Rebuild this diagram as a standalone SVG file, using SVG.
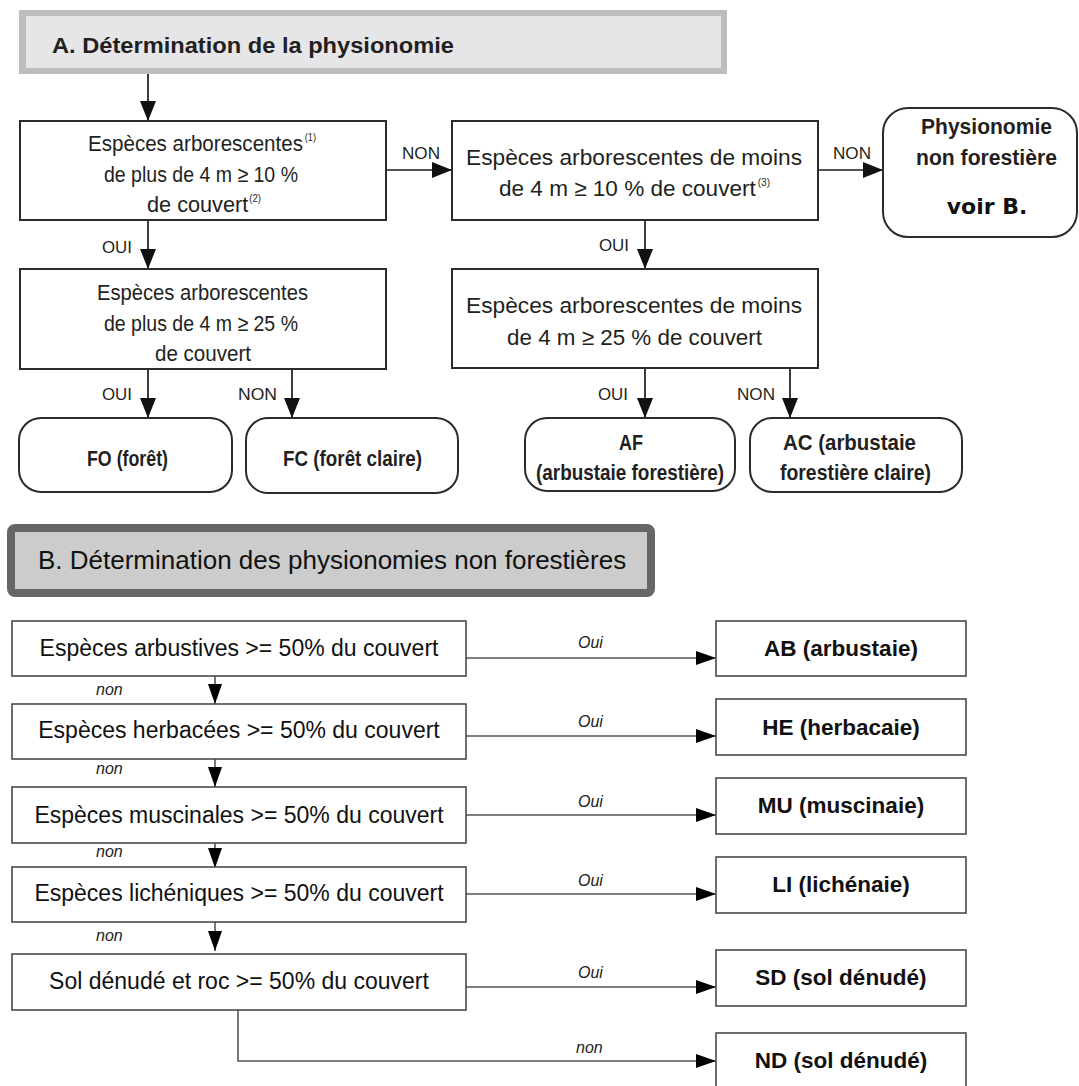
<svg xmlns="http://www.w3.org/2000/svg" width="1079" height="1086" viewBox="0 0 1079 1086">
  <style>
    .box { fill: #ffffff; stroke: #2b2b2b; stroke-width: 2; }
    .boxb { fill: #ffffff; stroke: #4a4a4a; stroke-width: 1.6; }
    .wire { fill: none; stroke: #1a1a1a; stroke-width: 1.7; }
    .wireb { fill: none; stroke: #555555; stroke-width: 1.6; }
    .cond { font-family: "Liberation Sans", Arial, sans-serif; font-size: 22.5px; fill: #231f20; }
    .condb { font-family: "Liberation Sans", Arial, sans-serif; font-size: 22.5px; font-weight: bold; fill: #231f20; }
    .sup { font-size: 10px; }
    .lbl { font-family: "Liberation Sans", Arial, sans-serif; font-size: 17px; fill: #231f20; }
    .txt { font-family: "Liberation Sans", Arial, sans-serif; font-size: 23px; fill: #111111; text-anchor: middle; }
    .txtb { font-family: "Liberation Sans", Arial, sans-serif; font-size: 22.5px; font-weight: bold; fill: #111111; text-anchor: middle; }
    .it { font-family: "Liberation Sans", Arial, sans-serif; font-size: 16px; font-style: italic; fill: #222222; }
  </style>
  <defs>
    <marker id="headA" markerUnits="userSpaceOnUse" markerWidth="20" markerHeight="16" refX="20" refY="8" orient="auto">
      <path d="M0,0 L20,8 L0,16 z" fill="#111111"/>
    </marker>
    <marker id="headB" markerUnits="userSpaceOnUse" markerWidth="20" markerHeight="14" refX="20" refY="7" orient="auto">
      <path d="M0,0 L20,7 L0,14 z" fill="#000000"/>
    </marker>
  </defs>

  <!-- Section A title band -->
  <g id="titleA">
    <rect x="19" y="10" width="708" height="64" fill="#bdbdbf"/>
    <rect x="26" y="16" width="695" height="52" fill="#e6e6e8"/>
    <text class="condb" x="52" y="53" font-size="24" textLength="402" lengthAdjust="spacingAndGlyphs">A. Détermination de la physionomie</text>
  </g>

  <!-- Section A connectors -->
  <g id="connectorsA">
    <path class="wire" d="M148,74 V121" marker-end="url(#headA)"/>
    <path class="wire" d="M148,220 V269" marker-end="url(#headA)"/>
    <path class="wire" d="M148,369 V418" marker-end="url(#headA)"/>
    <path class="wire" d="M292,369 V418" marker-end="url(#headA)"/>
    <path class="wire" d="M386,170 H452" marker-end="url(#headA)"/>
    <path class="wire" d="M818,170 H883" marker-end="url(#headA)"/>
    <path class="wire" d="M645,220 V269" marker-end="url(#headA)"/>
    <path class="wire" d="M645,368 V418" marker-end="url(#headA)"/>
    <path class="wire" d="M790,368 V418" marker-end="url(#headA)"/>
    <text class="lbl" x="102" y="253" textLength="30" lengthAdjust="spacingAndGlyphs">OUI</text>
    <text class="lbl" x="402" y="159" textLength="38" lengthAdjust="spacingAndGlyphs">NON</text>
    <text class="lbl" x="833" y="159" textLength="38" lengthAdjust="spacingAndGlyphs">NON</text>
    <text class="lbl" x="599" y="251" textLength="30" lengthAdjust="spacingAndGlyphs">OUI</text>
    <text class="lbl" x="102" y="400" textLength="30" lengthAdjust="spacingAndGlyphs">OUI</text>
    <text class="lbl" x="238" y="400" textLength="39" lengthAdjust="spacingAndGlyphs">NON</text>
    <text class="lbl" x="598" y="400" textLength="30" lengthAdjust="spacingAndGlyphs">OUI</text>
    <text class="lbl" x="737" y="400" textLength="38" lengthAdjust="spacingAndGlyphs">NON</text>
  </g>

  <!-- Section A nodes -->
  <g id="treesAbove4m10">
    <rect class="box" x="20" y="121" width="366" height="99"/>
    <text class="cond" x="88" y="151" textLength="228" lengthAdjust="spacingAndGlyphs">Espèces arborescentes<tspan class="sup" dx="2" dy="-10">(1)</tspan></text>
    <text class="cond" x="104" y="182" textLength="194" lengthAdjust="spacingAndGlyphs">de plus de 4 m ≥ 10 %</text>
    <text class="cond" x="147" y="212" textLength="114" lengthAdjust="spacingAndGlyphs">de couvert<tspan class="sup" dx="1" dy="-10">(2)</tspan></text>
  </g>
  <g id="treesAbove4m25">
    <rect class="box" x="20" y="269" width="366" height="100"/>
    <text class="cond" x="97" y="300" textLength="211" lengthAdjust="spacingAndGlyphs">Espèces arborescentes</text>
    <text class="cond" x="104" y="331" textLength="194" lengthAdjust="spacingAndGlyphs">de plus de 4 m ≥ 25 %</text>
    <text class="cond" x="155" y="361" textLength="96" lengthAdjust="spacingAndGlyphs">de couvert</text>
  </g>
  <g id="treesBelow4m10">
    <rect class="box" x="452" y="121" width="366" height="99"/>
    <text class="cond" x="466" y="165" textLength="336" lengthAdjust="spacingAndGlyphs">Espèces arborescentes de moins</text>
    <text class="cond" x="499" y="196" textLength="271" lengthAdjust="spacingAndGlyphs">de 4 m ≥ 10 % de couvert<tspan class="sup" dx="2" dy="-10">(3)</tspan></text>
  </g>
  <g id="treesBelow4m25">
    <rect class="box" x="452" y="269" width="366" height="99"/>
    <text class="cond" x="466" y="313" textLength="336" lengthAdjust="spacingAndGlyphs">Espèces arborescentes de moins</text>
    <text class="cond" x="507" y="345" textLength="255" lengthAdjust="spacingAndGlyphs">de 4 m ≥ 25 % de couvert</text>
  </g>
  <g id="nonForest">
    <rect class="box" x="883" y="108" width="194" height="129" rx="25"/>
    <text class="condb" x="921" y="134" textLength="131" lengthAdjust="spacingAndGlyphs">Physionomie</text>
    <text class="condb" x="916" y="165" textLength="141" lengthAdjust="spacingAndGlyphs">non forestière</text>
    <text x="987" y="214" font-family="'DejaVu Sans', Verdana, sans-serif" font-weight="bold" font-size="22" text-anchor="middle" fill="#111111">voir B.</text>
  </g>
  <g id="FO">
    <rect class="box" x="19" y="418" width="213" height="74" rx="22"/>
    <text class="condb" x="87" y="466" textLength="81" lengthAdjust="spacingAndGlyphs">FO (forêt)</text>
  </g>
  <g id="FC">
    <rect class="box" x="246" y="418" width="212" height="75" rx="22"/>
    <text class="condb" x="283" y="466" textLength="139" lengthAdjust="spacingAndGlyphs">FC (forêt claire)</text>
  </g>
  <g id="AF">
    <rect class="box" x="525" y="418" width="210" height="73" rx="22"/>
    <text class="condb" x="619" y="450" textLength="24" lengthAdjust="spacingAndGlyphs">AF</text>
    <text class="condb" x="536" y="480" textLength="188" lengthAdjust="spacingAndGlyphs">(arbustaie forestière)</text>
  </g>
  <g id="AC">
    <rect class="box" x="750" y="418" width="212" height="74" rx="22"/>
    <text class="condb" x="783" y="450" textLength="133" lengthAdjust="spacingAndGlyphs">AC (arbustaie</text>
    <text class="condb" x="780" y="480" textLength="151" lengthAdjust="spacingAndGlyphs">forestière claire)</text>
  </g>

  <!-- Section B title band -->
  <g id="titleB">
    <rect x="11" y="528" width="640" height="65" rx="4" fill="#cccccc" stroke="#666666" stroke-width="8"/>
    <text x="38" y="569" font-family="'Liberation Sans', Arial, sans-serif" font-size="26" fill="#111111">B. Détermination des physionomies non forestières</text>
  </g>

  <!-- Section B connectors -->
  <g id="connectorsB">
    <path class="wireb" d="M215,676 V704" marker-end="url(#headB)"/>
    <path class="wireb" d="M215,759 V787" marker-end="url(#headB)"/>
    <path class="wireb" d="M215,843 V868" marker-end="url(#headB)"/>
    <path class="wireb" d="M215,922 V951" marker-end="url(#headB)"/>
    <path class="wireb" d="M466,658 H716" marker-end="url(#headB)"/>
    <path class="wireb" d="M466,736 H716" marker-end="url(#headB)"/>
    <path class="wireb" d="M466,815 H716" marker-end="url(#headB)"/>
    <path class="wireb" d="M466,894 H716" marker-end="url(#headB)"/>
    <path class="wireb" d="M466,987 H716" marker-end="url(#headB)"/>
    <path class="wireb" d="M238,1010 V1061 H716" marker-end="url(#headB)"/>
    <text class="it" x="96" y="695">non</text>
    <text class="it" x="96" y="774">non</text>
    <text class="it" x="96" y="857">non</text>
    <text class="it" x="96" y="941">non</text>
    <text class="it" x="578" y="648">Oui</text>
    <text class="it" x="578" y="727">Oui</text>
    <text class="it" x="578" y="807">Oui</text>
    <text class="it" x="578" y="886">Oui</text>
    <text class="it" x="578" y="978">Oui</text>
    <text class="it" x="576" y="1053">non</text>
  </g>

  <!-- Section B decision nodes -->
  <g id="shrubs">
    <rect class="boxb" x="12" y="621" width="454" height="55"/>
    <text class="txt" x="239" y="656">Espèces arbustives &gt;= 50% du couvert</text>
  </g>
  <g id="herbs">
    <rect class="boxb" x="12" y="704" width="454" height="55"/>
    <text class="txt" x="239" y="738">Espèces herbacées &gt;= 50% du couvert</text>
  </g>
  <g id="mosses">
    <rect class="boxb" x="12" y="787" width="454" height="56"/>
    <text class="txt" x="239" y="823">Espèces muscinales &gt;= 50% du couvert</text>
  </g>
  <g id="lichens">
    <rect class="boxb" x="12" y="867" width="454" height="55"/>
    <text class="txt" x="239" y="901">Espèces lichéniques &gt;= 50% du couvert</text>
  </g>
  <g id="bareSoil">
    <rect class="boxb" x="12" y="954" width="454" height="56"/>
    <text class="txt" x="239" y="989">Sol dénudé et roc &gt;= 50% du couvert</text>
  </g>

  <!-- Section B result nodes -->
  <g id="AB">
    <rect class="boxb" x="716" y="621" width="250" height="55"/>
    <text class="txtb" x="841" y="656">AB (arbustaie)</text>
  </g>
  <g id="HE">
    <rect class="boxb" x="716" y="699" width="250" height="56"/>
    <text class="txtb" x="841" y="735">HE (herbacaie)</text>
  </g>
  <g id="MU">
    <rect class="boxb" x="716" y="778" width="250" height="56"/>
    <text class="txtb" x="841" y="813">MU (muscinaie)</text>
  </g>
  <g id="LI">
    <rect class="boxb" x="716" y="857" width="250" height="56"/>
    <text class="txtb" x="841" y="892">LI (lichénaie)</text>
  </g>
  <g id="SD">
    <rect class="boxb" x="716" y="950" width="250" height="56"/>
    <text class="txtb" x="841" y="985">SD (sol dénudé)</text>
  </g>
  <g id="ND">
    <rect class="boxb" x="716" y="1033" width="250" height="60"/>
    <text class="txtb" x="841" y="1068">ND (sol dénudé)</text>
  </g>
</svg>
